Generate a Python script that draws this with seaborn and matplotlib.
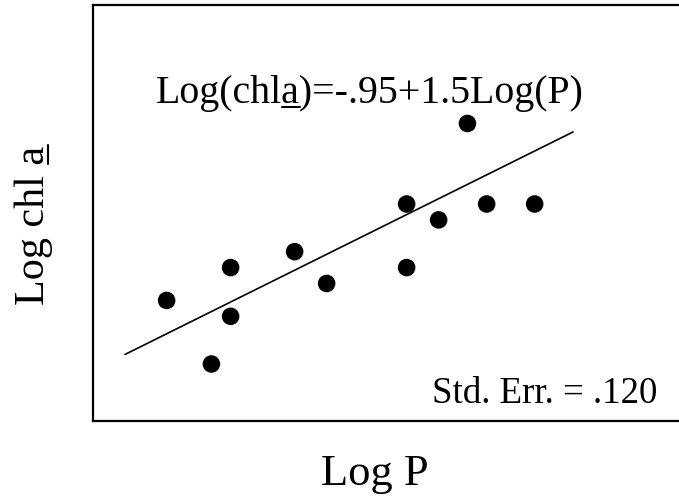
import matplotlib
matplotlib.use('Agg')
import matplotlib.pyplot as plt
import seaborn as sns
import pandas as pd
from matplotlib.lines import Line2D

# observed points (log P, log chl a)
log_p = [1.03, 1.17, 1.23, 1.23, 1.43, 1.53, 1.78, 1.78, 1.88, 1.97, 2.03, 2.18]
log_chl = [0.91, 0.31, 1.22, 0.76, 1.37, 1.07, 1.82, 1.22, 1.67, 2.58, 1.82, 1.82]

# regression line end points: Log(chla) = -.95 + 1.5 Log(P)
fit_x = [0.90, 2.30]
fit_y = [0.40, 2.50]

eq_text = 'Log(chla)=-.95+1.5Log(P)'
err_text = 'Std. Err. = .120'

sns.set_style('white')
plt.rcParams['font.family'] = ['Liberation Serif', 'DejaVu Serif']
plt.rcParams['text.color'] = 'black'

W, H = 679, 501
fig = plt.figure(figsize=(W / 100, H / 100), dpi=100)
ax = fig.add_axes([93 / W, 1 - 421 / H, 1 - 93 / W, 416 / H])

df = pd.DataFrame({'x': log_p, 'y': log_chl})
sns.scatterplot(data=df, x='x', y='y', color='black', s=160, edgecolor='none', ax=ax)
sns.lineplot(x=fit_x, y=fit_y, color='black', linewidth=1.2, ax=ax)

ax.set_xlim(0.8, 2.631)
ax.set_ylim(-0.228, 3.698)
ax.set_xticks([])
ax.set_yticks([])
ax.set_xlabel('')
ax.set_ylabel('')
for sp in ax.spines.values():
    sp.set_color('black')
    sp.set_linewidth(1.6)
ax.spines['right'].set_visible(False)

renderer = fig.canvas.get_renderer()


def text_width(s, fs):
    tmp = fig.text(0, 0, s, fontsize=fs)
    w = tmp.get_window_extent(renderer).width
    tmp.remove()
    return w


# equation with underlined "a"
fs_eq = 28.7
x0, yb = 156, H - 103
fig.text(x0 / W, yb / H, eq_text, fontsize=fs_eq, ha='left', va='baseline')
ua = x0 + text_width('Log(chl', fs_eq)
ub = x0 + text_width('Log(chla', fs_eq)
fig.add_artist(Line2D([ua / W, ub / W], [(yb - 4) / H] * 2, color='black',
                      linewidth=1.5, transform=fig.transFigure))

# standard error
fig.text(657 / W, (H - 403) / H, err_text, fontsize=26.6, ha='right', va='baseline')

# x label
fig.text(375 / W, (H - 485) / H, 'Log P', fontsize=32, ha='center', va='baseline')

# y label with underlined "a"
fs_y = 30.3
yc = H - 225
xr = 53
fig.text(xr / W, yc / H, 'Log chl a', fontsize=fs_y, rotation=90, ha='right', va='center')
full = text_width('Log chl a', fs_y)
ya = yc - full / 2 + text_width('Log chl ', fs_y)
yb2 = yc - full / 2 + full
fig.add_artist(Line2D([(xr - 5) / W] * 2, [ya / H, yb2 / H], color='black',
                      linewidth=1.5, transform=fig.transFigure))

plt.savefig('out.png', dpi=100)
